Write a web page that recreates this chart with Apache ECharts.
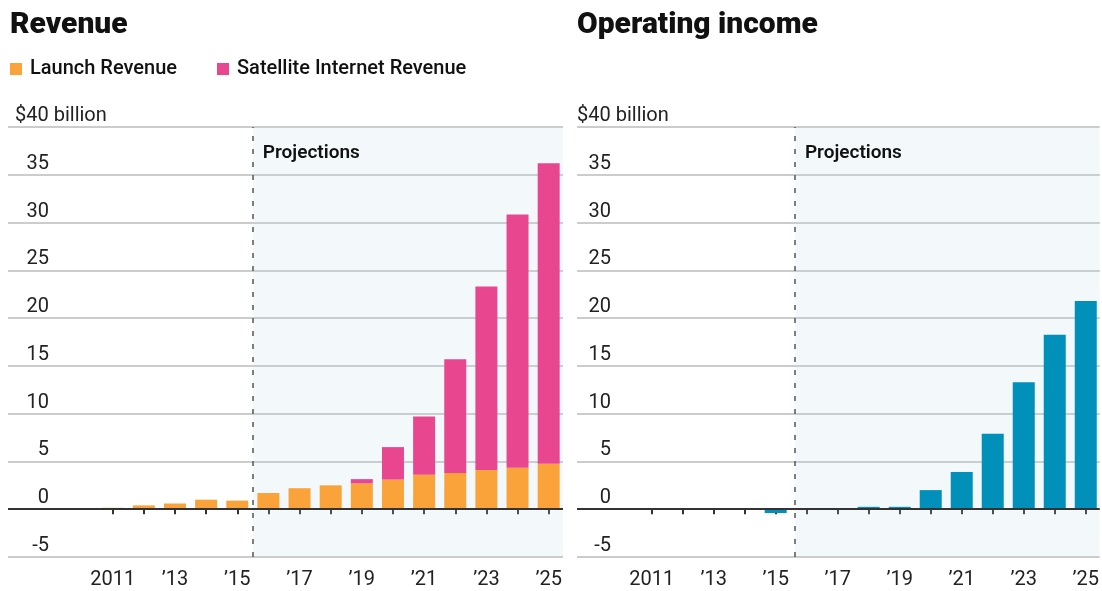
<!DOCTYPE html>
<html><head><meta charset="utf-8">
<script src="https://cdn.jsdelivr.net/npm/echarts@6/dist/echarts.min.js"></script>
<style>html,body{margin:0;padding:0;background:#fff}#c{width:1102px;height:591px}</style>
</head><body><div id="c"></div>
<script>
// ---- data ----
const years = [2011,2012,2013,2014,2015,2016,2017,2018,2019,2020,2021,2022,2023,2024,2025];
const launchRevenue    = [0.15,0.4,0.6,1.0,0.9,1.7,2.2,2.5,2.7,3.1,3.6,3.8,4.1,4.35,4.75];
const satelliteRevenue = [null,null,null,null,null,null,null,null,0.45,3.4,6.1,11.9,19.2,26.5,31.45];
const operatingIncome  = [null,null,null,null,-0.4,null,null,0.25,0.25,2.0,3.9,7.9,13.3,18.25,21.8];
const xLabelYears = [2011,2013,2015,2017,2019,2021,2023,2025];
const yTickValues = [-5,0,5,10,15,20,25,30,35,40];
const projectionStarts = [2015.5, 2015.62];
const seriesNames = ['Launch Revenue','Satellite Internet Revenue','Operating income'];
const titles = ['Revenue','Operating income'];
const unitLabel = '$40 billion';

// ---- layout / style ----
const FONT = 'Roboto, "Noto Sans", sans-serif';
const grids = [
  {left: 8, top: 127, width: 555, height: 430},
  {left: 577, top: 127, width: 525, height: 430}
];
const xRanges = [[2007.638, 2025.46], [2008.592, 2025.45]];
const labelMargins = [41, 34];
const COLORS = {launch:'#fba33b', sat:'#e8478f', op:'#0090b9', shade:'rgba(190,215,228,0.18)'};

// data items as [value, year]; encode maps year to x so stacking works on the value dimension
function pair(vals){ return years.map((y,i)=>[vals[i], y]); }
function fmtYear(v){ return v===2011 ? '2011' : '\u2019' + String(v).slice(2); }

const xAxes = grids.map((g,i)=>({
  type:'value', gridIndex:i, min:xRanges[i][0], max:xRanges[i][1], position:'bottom',
  axisLine:{show:false}, splitLine:{show:false},
  axisTick:{show:true, customValues:years, length:5, lineStyle:{color:'#333', width:2}},
  axisLabel:{customValues:xLabelYears, formatter:fmtYear, fontFamily:FONT, fontSize:20, color:'#222', margin:13}
}));
const yAxes = grids.map((g,i)=>({
  type:'value', gridIndex:i, min:yTickValues[0], max:yTickValues[yTickValues.length-1], interval:5,
  axisLine:{show:false}, axisTick:{show:false},
  splitLine:{show:true, lineStyle:{color:'#cccccc', width:2}},
  axisLabel:{inside:true, align:'right', verticalAlign:'bottom', margin:labelMargins[i], padding:[0,0,1,0],
    fontFamily:FONT, fontSize:20, color:'#222', formatter:v=> v===40 ? '' : String(v)}
}));

function markers(i){
  return {
    markArea:{silent:true, itemStyle:{color:COLORS.shade},
      label:{show:true, position:[10,17], formatter:'Projections', fontFamily:FONT, fontSize:19, fontWeight:600, color:'#111'},
      data:[[{xAxis:projectionStarts[i]},{xAxis:xRanges[i][1]}]]},
    markLine:{silent:true, symbol:['none','none'], label:{show:false}, animation:false,
      data:[
        {yAxis:0, lineStyle:{color:'#333', width:2, type:'solid'}},
        {xAxis:projectionStarts[i], lineStyle:{color:'#555', width:1.5, type:[5,8]}}
      ]}
  };
}
const enc = {x:1, y:0};
const titleStyle = {fontFamily:FONT, fontSize:30, fontWeight:900, color:'#111'};
const unitStyle = {fontFamily:FONT, fontSize:20, fontWeight:'normal', color:'#222'};

const option = {
  animation:false,
  backgroundColor:'#ffffff',
  title:[
    {text:titles[0], left:10, top:10, padding:0, textStyle:titleStyle},
    {text:titles[1], left:577, top:10, padding:0, textStyle:titleStyle},
    {text:unitLabel, left:15, top:106, padding:0, textStyle:unitStyle},
    {text:unitLabel, left:577, top:106, padding:0, textStyle:unitStyle}
  ],
  legend:{data:[seriesNames[0], seriesNames[1]], left:10, top:59, padding:0, icon:'rect', itemWidth:12, itemHeight:12, itemGap:40,
    textStyle:{fontFamily:FONT, fontSize:20, fontWeight:500, color:'#111', padding:[0,0,0,3]}},
  grid:grids,
  xAxis:xAxes,
  yAxis:yAxes,
  series:[
    Object.assign({type:'bar', name:seriesNames[0], xAxisIndex:0, yAxisIndex:0, stack:'rev', barWidth:22, encode:enc,
      itemStyle:{color:COLORS.launch}, data:pair(launchRevenue)}, markers(0)),
    {type:'bar', name:seriesNames[1], xAxisIndex:0, yAxisIndex:0, stack:'rev', barWidth:22, encode:enc,
      itemStyle:{color:COLORS.sat}, data:pair(satelliteRevenue)},
    Object.assign({type:'bar', name:seriesNames[2], xAxisIndex:1, yAxisIndex:1, barWidth:22, encode:enc,
      itemStyle:{color:COLORS.op}, data:pair(operatingIncome)}, markers(1))
  ]
};
const chart = echarts.init(document.getElementById('c'), null, {renderer:'canvas'});
chart.setOption(option);
</script>
</body></html>
